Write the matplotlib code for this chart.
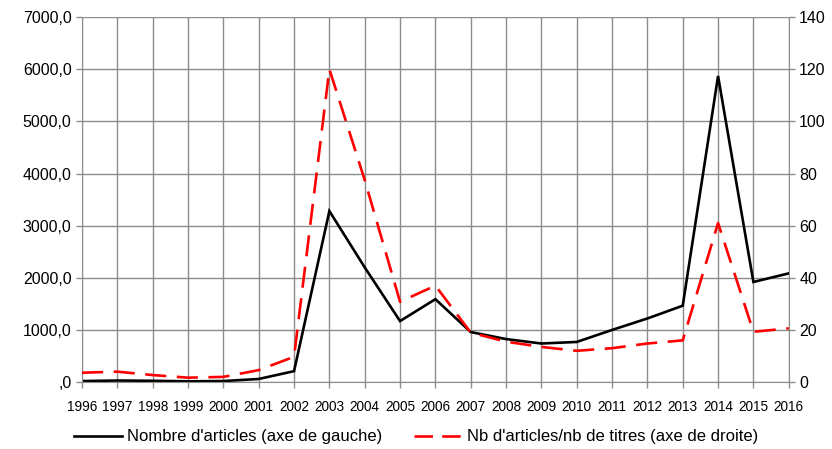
import matplotlib.pyplot as plt
from matplotlib.ticker import FuncFormatter, MultipleLocator
from matplotlib.lines import Line2D

annees = list(range(1996, 2017))
nb_articles = [20, 30, 25, 15, 20, 60, 210, 3280, 2200, 1170, 1590,
               960, 825, 740, 770, 1000, 1220, 1465, 5870, 1920, 2085]
ratio_titres = [3.6, 4.0, 2.7, 1.7, 2.0, 4.6, 9.7, 120, 77.5, 30.8, 37,
                19, 15.5, 13.5, 12, 13, 14.8, 16, 61, 19.3, 20.6]

plt.rcParams["font.family"] = ["Liberation Sans", "DejaVu Sans"]

GRIS = "#8c8c8c"


def format_gauche(v, _pos):
    txt = f"{v:.1f}".replace(".", ",")
    return txt[1:] if txt.startswith("0,") else txt


fig = plt.figure(figsize=(8.32, 4.49), dpi=100)
ax = fig.add_axes([0.0986, 0.149, 0.8494, 0.813])
ax2 = ax.twinx()

ax.plot(annees, nb_articles, color="black", lw=1.9, solid_joinstyle="miter")
ax2.plot(annees, ratio_titres, color="red", lw=1.9, dashes=(8, 4))

ax.set_xlim(1996, 2016)
ax.set_ylim(0, 7000)
ax2.set_ylim(0, 140)
ax.set_xticks(annees)
ax.yaxis.set_major_locator(MultipleLocator(1000))
ax2.yaxis.set_major_locator(MultipleLocator(20))
ax.yaxis.set_major_formatter(FuncFormatter(format_gauche))

ax.grid(True, color=GRIS, lw=1.0)
ax.set_axisbelow(True)

for a in (ax, ax2):
    for s in a.spines.values():
        s.set_visible(False)
    a.tick_params(colors=GRIS, labelcolor="black", length=4, width=1.0,
                  labelsize=11.5)
ax.spines["left"].set_visible(True)
ax.spines["left"].set_color(GRIS)
ax.spines["bottom"].set_visible(True)
ax.spines["bottom"].set_color(GRIS)
ax2.spines["right"].set_visible(True)
ax2.spines["right"].set_color(GRIS)
ax.tick_params(axis="x", labelsize=9.8, pad=9)

poignees = [
    Line2D([], [], color="black", lw=1.9),
    Line2D([], [], color="red", lw=1.9, dashes=(7, 3.5)),
]
fig.legend(poignees,
           ["Nombre d'articles (axe de gauche)",
            "Nb d'articles/nb de titres (axe de droite)"],
           loc="center", bbox_to_anchor=(0.5, 0.027), ncol=2, frameon=False,
           fontsize=12, handlelength=2.9, columnspacing=1.9, handletextpad=0.3)

fig.savefig("out.png", dpi=100)
